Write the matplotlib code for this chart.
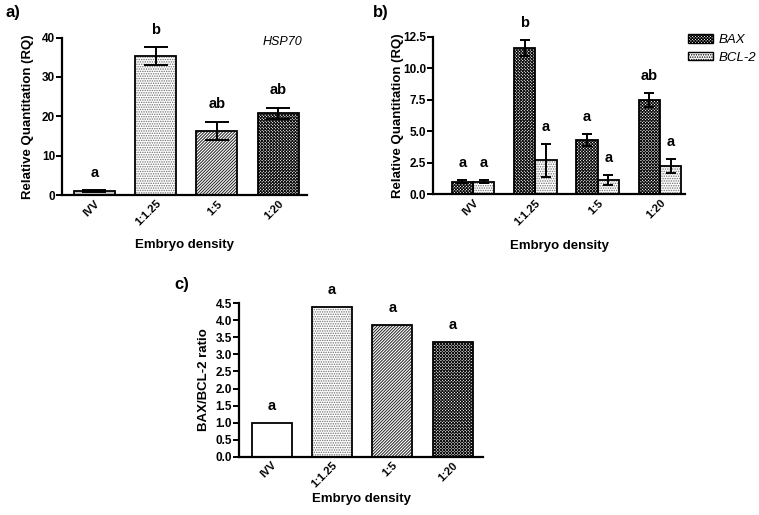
import matplotlib
matplotlib.use("Agg")
import matplotlib.pyplot as plt
import numpy as np
from matplotlib.patches import Patch

plt.rcParams['font.family'] = ['Liberation Sans', 'DejaVu Sans']
plt.rcParams['hatch.linewidth'] = 0.7

categories = ['IVV', '1:1.25', '1:5', '1:20']

hsp70 = [1.0, 35.2, 16.3, 20.8]
hsp70_err = [0.2, 2.3, 2.3, 1.4]
hsp70_letters = ['a', 'b', 'ab', 'ab']

bax = [1.0, 11.6, 4.3, 7.5]
bax_err = [0.1, 0.65, 0.45, 0.55]
bax_letters = ['a', 'b', 'a', 'ab']
bcl2 = [1.0, 2.7, 1.1, 2.25]
bcl2_err = [0.1, 1.3, 0.4, 0.55]
bcl2_letters = ['a', 'a', 'a', 'a']

ratio = [1.0, 4.38, 3.85, 3.36]
ratio_letters = ['a', 'a', 'a', 'a']

# styles: (facecolor, hatch, hatchcolor)
STY_WHITE = ('white', None, 'black')
STY_GREY = ('#c8c8c8', None, 'black')
STY_DOTS = ('white', '.' * 7, '#707070')
STY_DIAG = ('white', '/' * 11, '#202020')
STY_CROSS = ('white', 'x' * 11, '#101010')

W, H = 759, 515
fig = plt.figure(figsize=(W / 100, H / 100), dpi=100)


def px_axes(l, t, r, b):
    ax = fig.add_axes([l / W, 1 - b / H, (r - l) / W, (b - t) / H])
    ax._px = (l, t, r, b)
    return ax


def styled_bar(ax, x, h, width, sty):
    fc, hatch, hc = sty
    ax.bar(x, h, width, color=fc, hatch=hatch, edgecolor=hc, linewidth=0, zorder=2)
    ax.bar(x, h, width, fill=False, edgecolor='black', linewidth=1.3, zorder=3)


def style_axes(ax, ylabel, yticks, yfmt, ylab_x, xlab_y):
    l, t, r, b = ax._px
    for s in ['top', 'right']:
        ax.spines[s].set_visible(False)
    for s in ['left', 'bottom']:
        ax.spines[s].set_linewidth(1.6)
    ax.set_yticks(yticks)
    ax.set_yticklabels([yfmt.format(v) for v in yticks], fontsize=8.5, fontweight='bold')
    ax.tick_params(axis='y', direction='out', length=4, width=1.4, pad=1)
    ax.tick_params(axis='x', length=0, pad=2.5)
    ax.set_xticks(range(len(categories)))
    ax.set_xticklabels(categories, rotation=45, ha='right', rotation_mode='anchor',
                       fontsize=8, fontweight='bold')
    ax.set_ylabel(ylabel, fontsize=9.5, fontweight='bold', va='center')
    ax.set_xlabel('Embryo density', fontsize=9.5, fontweight='bold', va='center')
    ax.yaxis.set_label_coords((ylab_x - l) / (r - l), 0.5)
    ax.xaxis.set_label_coords(0.5, (b - xlab_y) / (b - t))


x = np.arange(len(categories))

# Panel a
axa = px_axes(62, 37.5, 307, 195)
sty_a = [STY_GREY, STY_DOTS, STY_DIAG, STY_CROSS]
for i in range(len(categories)):
    styled_bar(axa, x[i], hsp70[i], 0.67, sty_a[i])
axa.errorbar(x, hsp70, yerr=hsp70_err, fmt='none', ecolor='black', elinewidth=1.4,
             capsize=8.3, capthick=1.4, zorder=4)
for i in range(len(categories)):
    axa.text(x[i], hsp70[i] + hsp70_err[i] + 4.5, hsp70_letters[i], ha='center', va='center',
             fontsize=10.5, fontweight='bold', clip_on=False)
axa.set_xlim(-0.53, 3.47)
axa.set_ylim(0, 40)
style_axes(axa, 'Relative Quantitation (RQ)', [0, 10, 20, 30, 40], '{:.0f}', 28, 245)
fig.text(302 / W, 1 - 42 / H, 'HSP70', fontsize=9, fontstyle='italic', ha='right', va='center')

# Panel b
axb = px_axes(433, 36.7, 685, 194.3)
bw = 0.34
for i in range(len(categories)):
    styled_bar(axb, x[i] - bw / 2, bax[i], bw, STY_CROSS)
    styled_bar(axb, x[i] + bw / 2, bcl2[i], bw, STY_DOTS)
axb.errorbar(x - bw / 2, bax, yerr=bax_err, fmt='none', ecolor='black', elinewidth=1.4,
             capsize=3.9, capthick=1.4, zorder=4)
axb.errorbar(x + bw / 2, bcl2, yerr=bcl2_err, fmt='none', ecolor='black', elinewidth=1.4,
             capsize=3.9, capthick=1.4, zorder=4)
for i in range(len(categories)):
    axb.text(x[i] - bw / 2, bax[i] + bax_err[i] + 1.35, bax_letters[i], ha='center', va='center',
             fontsize=10.5, fontweight='bold', clip_on=False)
    axb.text(x[i] + bw / 2, bcl2[i] + bcl2_err[i] + 1.35, bcl2_letters[i], ha='center', va='center',
             fontsize=10.5, fontweight='bold', clip_on=False)
axb.set_xlim(-0.64, 3.40)
axb.set_ylim(0, 12.5)
style_axes(axb, 'Relative Quantitation (RQ)', [0, 2.5, 5.0, 7.5, 10.0, 12.5], '{:.1f}', 398, 246)
handles = [Patch(facecolor='white', hatch=STY_CROSS[1], edgecolor='black', linewidth=1.0),
           Patch(facecolor='white', hatch=STY_DOTS[1], edgecolor='black', linewidth=1.0)]
leg = fig.legend(handles, ['BAX', 'BCL-2'], loc='upper left',
                 bbox_to_anchor=(688 / W, 1 - 34 / H), frameon=False,
                 prop={'size': 9.5, 'style': 'italic'}, handlelength=1.9, handleheight=0.6,
                 handletextpad=0.4, labelspacing=0.45, borderaxespad=0, borderpad=0)

# Panel c
axc = px_axes(239, 303.3, 483, 456.7)
sty_c = [STY_WHITE, STY_DOTS, STY_DIAG, STY_CROSS]
for i in range(len(categories)):
    styled_bar(axc, x[i], ratio[i], 0.66, sty_c[i])
    axc.text(x[i], ratio[i] + 0.5, ratio_letters[i], ha='center', va='center',
             fontsize=10.5, fontweight='bold', clip_on=False)
axc.set_xlim(-0.54, 3.5)
axc.set_ylim(0, 4.5)
style_axes(axc, 'BAX/BCL-2 ratio', list(np.arange(0, 4.51, 0.5)), '{:.1f}', 204, 499)

# Panel labels
fig.text(5 / W, 1 - 13 / H, 'a)', fontsize=12, fontweight='bold', va='center', ha='left')
fig.text(373 / W, 1 - 13 / H, 'b)', fontsize=12, fontweight='bold', va='center', ha='left')
fig.text(174 / W, 1 - 285 / H, 'c)', fontsize=12, fontweight='bold', va='center', ha='left')

fig.savefig('out.png', dpi=100)
